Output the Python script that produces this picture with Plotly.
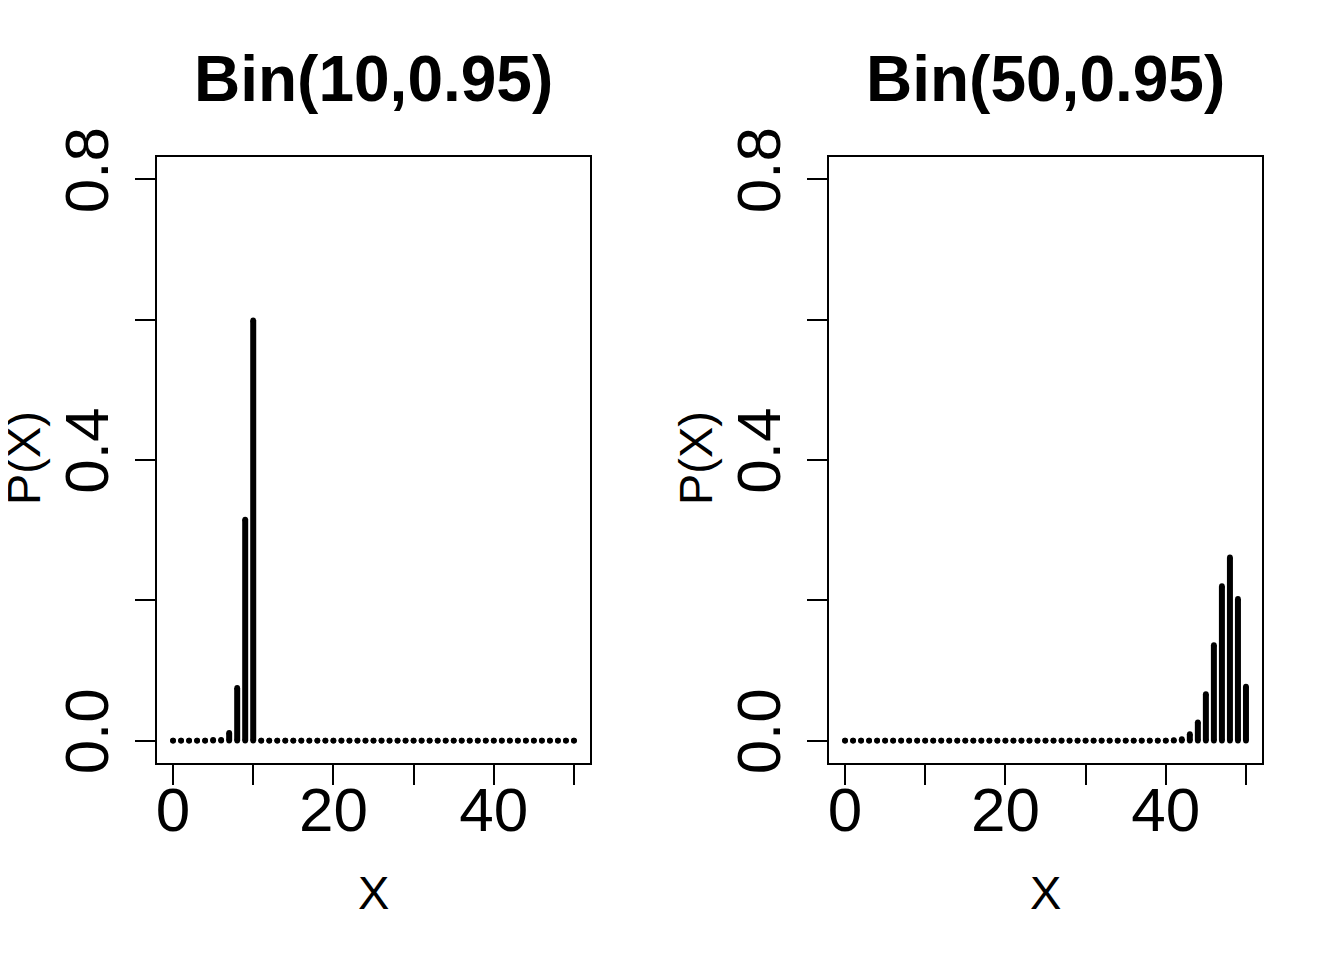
import plotly.graph_objects as go

# ---- data ----
x_vals = list(range(0, 51))

p_bin10 = [0.0, 0.0, 0.0, 0.0, 0.0, 0.001, 0.001, 0.011, 0.075, 0.315,
           0.599] + [0.0] * 40

p_bin50 = [0.0] * 41 + [0.0006, 0.002, 0.009, 0.026, 0.066,
                        0.136, 0.220, 0.261, 0.202, 0.077]

titles = ["Bin(10,0.95)", "Bin(50,0.95)"]
x_tickvals = [0, 10, 20, 30, 40, 50]
x_ticktext = ["0", "", "20", "", "40", ""]
y_tickvals = [0.0, 0.2, 0.4, 0.6, 0.8]
y_ticktext = ["0.0", "", "0.4", "", "0.8"]
x_label = "X"
y_label = "P(X)"

W, H = 1344, 960
OFF = 8  # page body margin compensation
FONT = "Liberation Sans, Arial, sans-serif"

fig = go.Figure()

panels = [(p_bin10, 157, 590), (p_bin50, 829, 1262)]
box_top, box_bot = 157, 763


def px(v):
    return (v - OFF) / W


def py(v):
    return 1 - (v - OFF) / H


for i, (probs, x0, x1) in enumerate(panels):
    ax = "" if i == 0 else "2"
    xs, ys = [], []
    for xv, pv in zip(x_vals, probs):
        xs += [xv, xv, None]
        ys += [0, pv, None]
    fig.add_trace(go.Scatter(x=xs, y=ys, mode="lines",
                             line=dict(color="black", width=6),
                             xaxis="x" + ax, yaxis="y" + ax,
                             hoverinfo="skip", showlegend=False))
    # round caps at both ends
    fig.add_trace(go.Scatter(x=x_vals + x_vals, y=[0] * len(x_vals) + probs,
                             mode="markers",
                             marker=dict(color="black", size=5.8, line=dict(width=0)),
                             xaxis="x" + ax, yaxis="y" + ax,
                             hoverinfo="skip", showlegend=False))

    axis_common = dict(showline=True, linecolor="black", linewidth=2, mirror=True,
                       ticks="outside", ticklen=20, tickwidth=2, tickcolor="black",
                       showgrid=False, zeroline=False, automargin=False,
                       tickfont=dict(family=FONT, size=62, color="black"))
    fig.update_layout(**{
        "xaxis" + ax: dict(domain=[px(x0), px(x1)], range=[-2, 52],
                           anchor="y" + ax, tickmode="array",
                           tickvals=x_tickvals, ticktext=x_ticktext,
                           ticklabelstandoff=-28,
                           **axis_common),
        "yaxis" + ax: dict(domain=[py(box_bot), py(box_top)],
                           range=[-0.032, 0.832], anchor="x" + ax,
                           tickmode="array", tickvals=y_tickvals,
                           ticktext=y_ticktext, tickangle=-90,
                           ticklabelstandoff=2,
                           **axis_common),
    })
    cx = (x0 + x1) / 2
    fig.add_annotation(text="<b>%s</b>" % titles[i], x=px(cx), y=py(79),
                       xref="paper", yref="paper", showarrow=False,
                       xanchor="center", yanchor="middle",
                       font=dict(family=FONT, size=64, color="black"))
    fig.add_annotation(text=x_label, x=px(cx), y=py(892),
                       xref="paper", yref="paper", showarrow=False,
                       xanchor="center", yanchor="middle",
                       font=dict(family=FONT, size=47, color="black"))
    fig.add_annotation(text=y_label, x=px(x0 - 134), y=py(458),
                       xref="paper", yref="paper", showarrow=False,
                       xanchor="center", yanchor="middle", textangle=-90,
                       font=dict(family=FONT, size=47, color="black"))

fig.update_layout(template="none", width=W, height=H,
                  margin=dict(l=0, r=0, t=0, b=0),
                  paper_bgcolor="white", plot_bgcolor="white")

fig.write_html("out.html")
